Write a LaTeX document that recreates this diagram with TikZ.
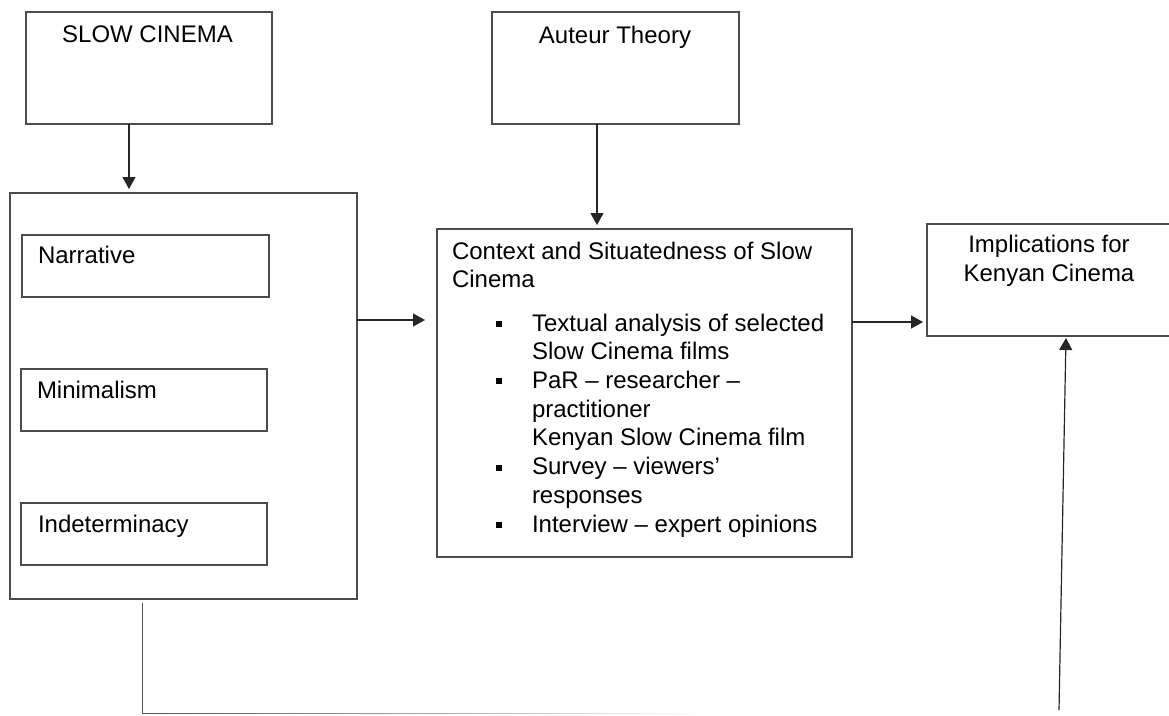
\documentclass[tikz,border=0pt]{standalone}
\usepackage{fontspec}
\setmainfont{Liberation Sans}
\usetikzlibrary{arrows.meta,fadings}
\tikzfading[name=fadeeast, left color=transparent!0, right color=transparent!100]
\begin{document}
\begin{tikzpicture}[x=1pt,y=-1pt,
  box/.style={draw=black!70, line width=1.5pt, rectangle, inner sep=0pt, outer sep=0pt},
  lbl/.style={font=\fontsize{24}{28.7}\selectfont, inner sep=0pt, outer sep=0pt},
  arr/.style={draw=black!85, line width=1.2pt, -{Triangle[width=13pt,length=12pt]}, shorten >=4pt},
  link/.style={draw=black!68, line width=1.5pt},
  bul/.style={fill=black, draw=none, minimum size=6pt, inner sep=0pt, outer sep=0pt, rectangle}]
\useasboundingbox (0,0) rectangle (1169,715);

% boxes
\node[box, minimum width=246pt, minimum height=112pt] (slow) at (149,68) {};
\node[box, minimum width=347pt, minimum height=406pt] (big) at (183.5,396) {};
\node[box, minimum width=247pt, minimum height=62pt] (narr) at (145.5,266) {};
\node[box, minimum width=246pt, minimum height=62pt] (mini) at (144,400) {};
\node[box, minimum width=246pt, minimum height=62pt] (indet) at (144,534) {};
\node[box, minimum width=247pt, minimum height=112pt] (auteur) at (615.5,68) {};
\node[box, minimum width=415pt, minimum height=328pt] (ctx) at (644.5,393) {};
\node[box, minimum width=253pt, minimum height=112pt] (impl) at (1053.5,280) {};

% texts
\node[lbl, anchor=base] (tslow) at (147.5,42) {SLOW CINEMA};
\node[lbl, anchor=base] (taut) at (615,43) {Auteur Theory};
\node[lbl, anchor=base west] (tnarr) at (38,263) {Narrative};
\node[lbl, anchor=base west] (tmini) at (37,398) {Minimalism};
\node[lbl, anchor=base west] (tind) at (38,532) {Indeterminacy};
\node[lbl, anchor=base] (timp1) at (1049,252) {Implications for};
\node[lbl, anchor=base] (timp2) at (1049,281) {Kenyan Cinema};

\node[lbl, anchor=base west] (c1) at (452,259) {Context and Situatedness of Slow};
\node[lbl, anchor=base west] (c2) at (452,287) {Cinema};
\node[lbl, anchor=base west] (l1) at (532,331) {Textual analysis of selected};
\node[lbl, anchor=base west] (l2) at (532,359.7) {Slow Cinema films};
\node[lbl, anchor=base west] (l3) at (532,388.4) {PaR -- researcher --};
\node[lbl, anchor=base west] (l4) at (532,417) {practitioner};
\node[lbl, anchor=base west] (l5) at (532,445.8) {Kenyan Slow Cinema film};
\node[lbl, anchor=base west] (l6) at (532,474.5) {Survey -- viewers'};
\node[lbl, anchor=base west] (l7) at (532,503.2) {responses};
\node[lbl, anchor=base west] (l8) at (532,532) {Interview -- expert opinions};

\node[bul] (b1) at (498.5,324) {};
\node[bul] (b2) at (498.5,381.4) {};
\node[bul] (b3) at (498.5,467.5) {};
\node[bul] (b4) at (498.5,525) {};

% connectors
\coordinate (xa) at (129,0);
\draw[arr] (slow.south -| xa) -- (big.north -| xa);
\coordinate (ya) at (0,320);
\draw[arr, shorten >=12pt] (big.east |- ya) -- (ctx.west |- ya);
\coordinate (xb) at (597,0);
\draw[arr] (auteur.south -| xb) -- (ctx.north -| xb);
\coordinate (yb) at (0,322);
\draw[arr] (ctx.east |- yb) -- (impl.west |- yb);
\coordinate (xc) at (143,0);
\coordinate (fadeend) at (707,713.5);
\draw[link, path fading=fadeeast, shorten <=4pt] (big.south -| xc) |- (fadeend);
\coordinate (upstart) at (1059,710);
\coordinate (xd) at (1066,0);
\draw[arr, shorten >=2pt] (upstart) -- (impl.south -| xd);
\end{tikzpicture}
\end{document}
